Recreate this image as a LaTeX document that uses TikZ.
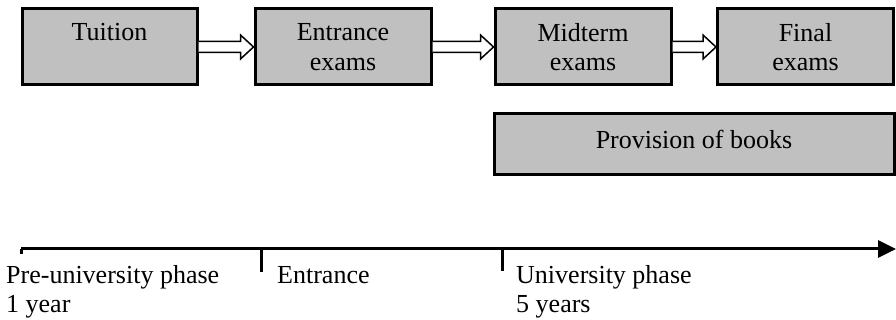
\documentclass[tikz,border=0pt]{standalone}
\usepackage{fontspec}
\setmainfont{Liberation Serif}
\usetikzlibrary{calc,arrows.meta}
\definecolor{boxgray}{HTML}{C0C0C0}
\tikzset{
  box/.style={draw=black, fill=boxgray, line width=3pt, inner sep=0pt, align=center,
    font=\fontsize{26}{29.5}\selectfont},
  lbl/.style={inner sep=0pt, align=left, anchor=north west, font=\fontsize{26}{29.5}\selectfont},
  tl/.style={line width=3pt},
}
\newcommand{\blockarrow}[2]{%
  \draw[line width=1.5pt, fill=white, line join=miter]
    ($(#1.east)+(0,5.5)$) -- ($(#2.west)+(-13,5.5)$) -- ($(#2.west)+(-13,12)$) --
    (#2.west) -- ($(#2.west)+(-13,-12)$) -- ($(#2.west)+(-13,-5.5)$) --
    ($(#1.east)+(0,-5.5)$);
}
\begin{document}
\begin{tikzpicture}[x=1pt,y=-1pt]
\useasboundingbox (0,0) rectangle (896,320);
\node[box, minimum width=175pt, minimum height=76pt] (tuition) at (109.5,47) {Tuition\\\phantom{x}};
\node[box, minimum width=176pt, minimum height=76pt] (entr) at (343,47) {Entrance\\exams};
\node[box, minimum width=176pt, minimum height=76pt] (mid) at (583,47) {Midterm\\exams};
\node[box, minimum width=176pt, minimum height=76pt] (fin) at (805.5,47) {Final\\exams};
\node[box, minimum width=400pt, minimum height=61pt] (books) at (694,144) {};
\node[inner sep=0pt, font=\fontsize{26}{29.5}\selectfont] (bookst) at (694,139) {Provision of books};
\blockarrow{tuition}{entr}
\blockarrow{entr}{mid}
\blockarrow{mid}{fin}
\coordinate (t0) at (21,249);
\coordinate (t1) at (896,249);
\coordinate (k1) at (261,249);
\coordinate (k2) at (502,249);
\draw[tl, -{Triangle[length=18pt,width=17pt]}] (t0) -- (t1);
\draw[tl] (t0) -- ++(0,5);
\draw[tl] (k1) -- ++(0,23);
\draw[tl] (k2) -- ++(0,22);
\node[lbl] (pre) at (6,265) {Pre-university phase\\1 year};
\node[lbl] (ent) at (277,265) {\vphantom{h}Entrance};
\node[lbl] (uni) at (516,265) {University phase\\5 years};
\end{tikzpicture}
\end{document}
